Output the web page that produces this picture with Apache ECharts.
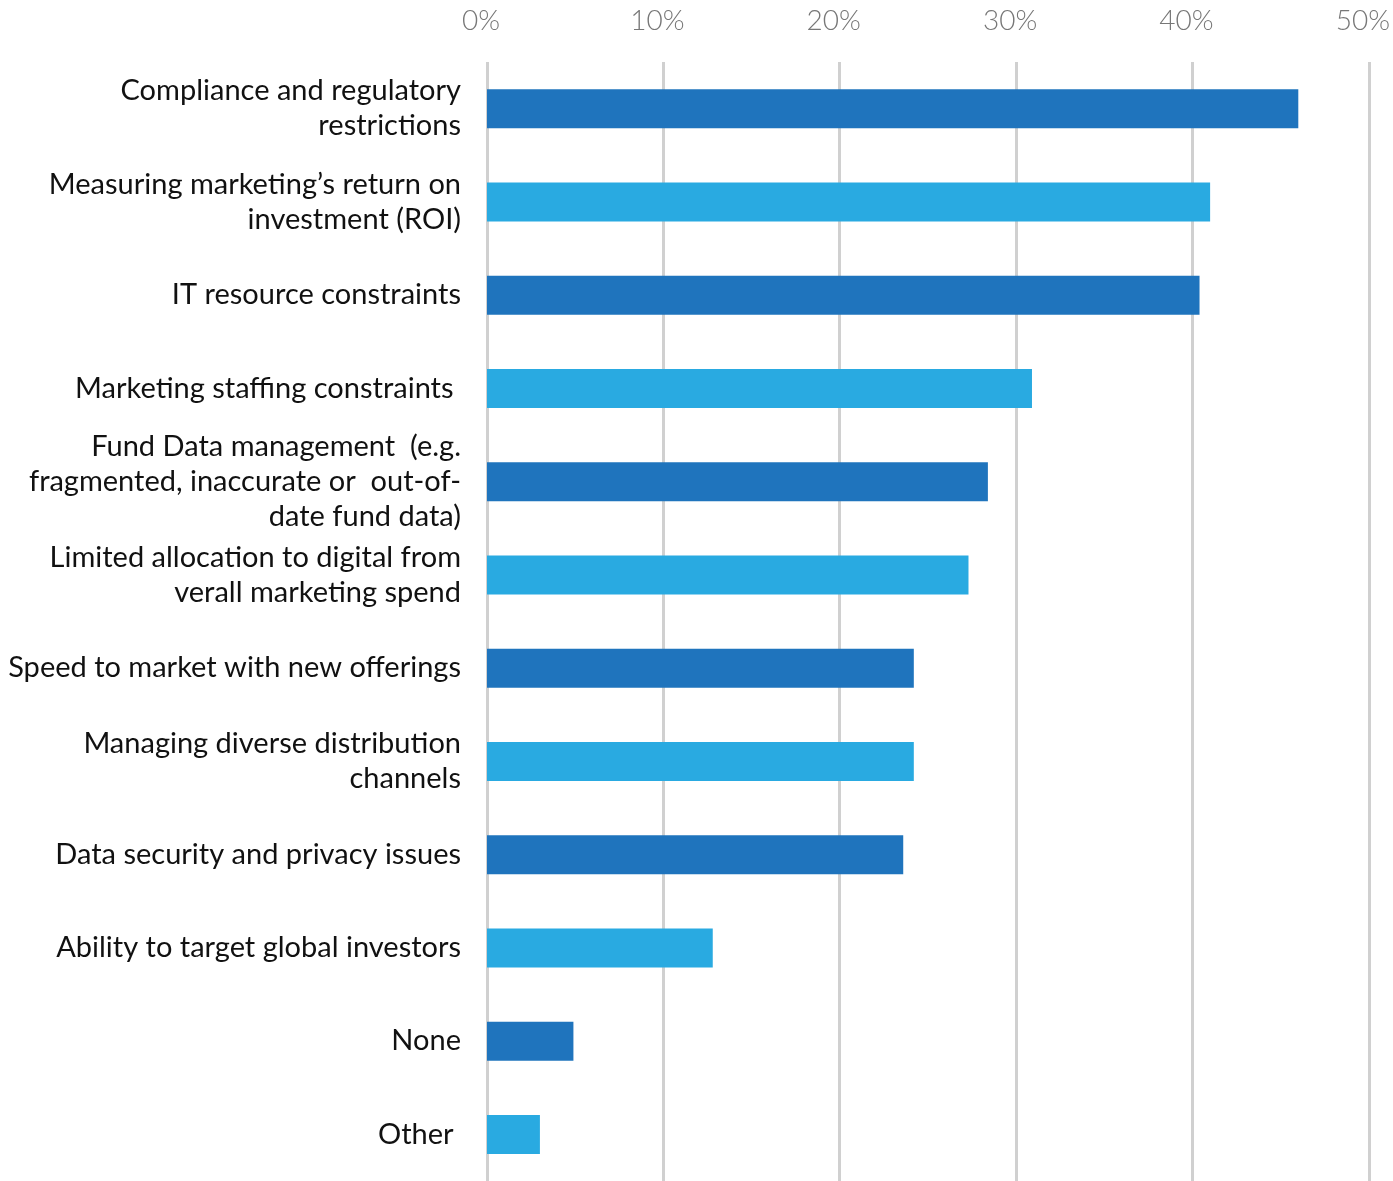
<!DOCTYPE html>
<html>
<head>
<meta charset="utf-8">
<title>Digital marketing challenges</title>
<script src="https://cdn.jsdelivr.net/npm/echarts@6/dist/echarts.min.js"></script>
<style>
  html, body { margin: 0; padding: 0; background: #ffffff; }
  #chart { width: 1393px; height: 1181px; }
</style>
</head>
<body>
<div id="chart"></div>
<script>
// Challenges, listed from top to bottom
const categories = [
  'Compliance and regulatory\nrestrictions',
  'Measuring marketing\u2019s return on\ninvestment (ROI)',
  'IT resource constraints',
  'Marketing staffing constraints ',
  'Fund Data management  (e.g.\nfragmented, inaccurate or  out-of-\ndate fund data)',
  'Limited allocation to digital from\nverall marketing spend',
  'Speed to market with new offerings',
  'Managing diverse distribution\nchannels',
  'Data security and privacy issues',
  'Ability to target global investors',
  'None',
  'Other '
];

// Share of respondents (%)
const values = [46.0, 41.0, 40.4, 30.9, 28.4, 27.3, 24.2, 24.2, 23.6, 12.8, 4.9, 3.0];

// Axis ticks (%)
const tickValues = [0, 10, 20, 30, 40, 50];

const darkBlue = '#1f74bd';
const lightBlue = '#29aae1';

const chart = echarts.init(document.getElementById('chart'), null, { renderer: 'canvas' });

chart.setOption({
  backgroundColor: '#ffffff',
  animation: false,
  grid: { left: 487, right: 23, top: 62, bottom: 0, containLabel: false },
  xAxis: {
    type: 'value',
    position: 'top',
    min: tickValues[0],
    max: tickValues[tickValues.length - 1],
    interval: 10,
    axisLine: { show: false },
    axisTick: { show: false },
    axisLabel: {
      formatter: v => v + '%',
      fontFamily: 'Lato',
      fontWeight: 300,
      fontSize: 28,
      color: '#777777',
      margin: 27,
      padding: [0, 12, 0, 0]
    },
    splitLine: { show: true, lineStyle: { color: '#d0d0d0', width: 3 } }
  },
  yAxis: {
    type: 'category',
    inverse: true,
    data: categories,
    axisLine: { show: false },
    axisTick: { show: false },
    axisLabel: {
      fontFamily: 'Lato',
      fontSize: 29,
      lineHeight: 35,
      color: '#111111',
      align: 'right',
      margin: 26,
      padding: [0, 0, 6, 0]
    }
  },
  series: [{
    type: 'bar',
    data: values.map((v, i) => ({
      value: v,
      itemStyle: { color: i % 2 === 0 ? darkBlue : lightBlue }
    })),
    barWidth: 39,
    silent: true
  }]
});
</script>
</body>
</html>
